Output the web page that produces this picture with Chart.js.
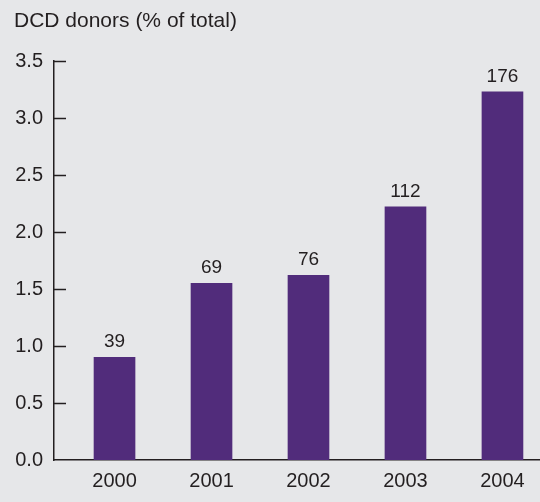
<!DOCTYPE html>
<html>
<head>
<meta charset="utf-8">
<script src="https://cdn.jsdelivr.net/npm/chart.js@4/dist/chart.umd.min.js"></script>
<style>
  html, body { margin: 0; padding: 0; background: #e6e7e9; }
  #wrap { width: 540px; height: 502px; position: relative; }
</style>
</head>
<body>
<div id="wrap"><canvas id="c" width="540" height="502"></canvas></div>
<script>
// data
const years = ['2000', '2001', '2002', '2003', '2004'];
const dcdPct = [0.90, 1.55, 1.62, 2.22, 3.23];
const donorCounts = [39, 69, 76, 112, 176];
const yTicks = [0, 0.5, 1.0, 1.5, 2.0, 2.5, 3.0, 3.5];

const ink = '#231f20';
const font = "'Liberation Sans', Arial, Helvetica, sans-serif";

// title, inward tick marks and the counts above bars
const extras = {
  id: 'extras',
  afterDraw(chart) {
    let ctx = chart.ctx;
    let y = chart.scales.y;
    let area = chart.chartArea;
    ctx.save();
    ctx.fillStyle = ink;
    ctx.font = '21px ' + font;
    ctx.textAlign = 'left';
    ctx.textBaseline = 'middle';
    ctx.fillText('DCD donors (% of total)', 14, 21);

    ctx.strokeStyle = ink;
    ctx.lineWidth = 1.5;
    for (let t of yTicks) {
      if (t === 0) continue;
      let py = Math.round(y.getPixelForValue(t)) + 0.5;
      ctx.beginPath();
      ctx.moveTo(area.left, py);
      ctx.lineTo(area.left + 12, py);
      ctx.stroke();
    }

    let meta = chart.getDatasetMeta(0);
    ctx.font = '19px ' + font;
    ctx.textAlign = 'center';
    ctx.textBaseline = 'alphabetic';
    meta.data.forEach((bar, i) => {
      ctx.fillText(String(donorCounts[i]), bar.x, bar.y - 10);
    });
    ctx.restore();
  }
};

new Chart(document.getElementById('c'), {
  type: 'bar',
  data: {
    datasets: [{
      data: dcdPct.map((v, i) => ({ x: i, y: v })),
      backgroundColor: '#512c7b',
      borderWidth: 0,
      barThickness: 41
    }]
  },
  options: {
    responsive: false,
    animation: false,
    layout: { padding: { top: 61, right: 0, left: 0, bottom: 0 } },
    plugins: { legend: { display: false }, tooltip: { enabled: false }, title: { display: false } },
    scales: {
      x: {
        type: 'linear',
        offset: false,
        min: -0.624,
        max: 4.387,
        grid: { display: false, drawTicks: false },
        border: { display: true, color: ink, width: 1.5 },
        afterBuildTicks(s) { s.ticks = years.map((_, i) => ({ value: i })); },
        ticks: {
          color: ink,
          font: { size: 20, family: font },
          padding: 9,
          maxRotation: 0,
          callback: v => years[v]
        },
        afterFit(s) { s.height = 42; }
      },
      y: {
        min: 0,
        max: 3.5,
        grid: { display: false, drawTicks: false },
        border: { display: true, color: ink, width: 1.5 },
        afterBuildTicks(s) { s.ticks = yTicks.map(v => ({ value: v })); },
        ticks: {
          color: ink,
          font: { size: 20, family: font },
          padding: 11,
          callback: v => v.toFixed(1)
        },
        afterFit(s) { s.width = 54; }
      }
    }
  },
  plugins: [extras]
});
</script>
</body>
</html>
